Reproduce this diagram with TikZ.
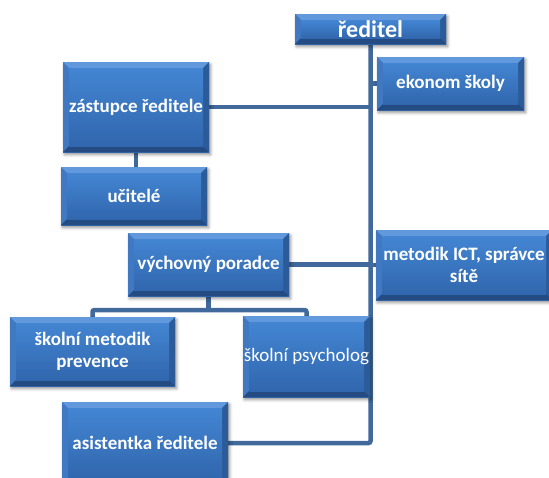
\documentclass[tikz,border=0pt]{standalone}
\usepackage{fontspec}
\setmainfont{Carlito}
\usetikzlibrary{backgrounds,shadows.blur}
\definecolor{facetop}{HTML}{4385D2}
\definecolor{facebot}{HTML}{3167AE}
\definecolor{bevtop}{HTML}{6199DC}
\definecolor{bevleft}{HTML}{4079C2}
\definecolor{bevright}{HTML}{2C5B9A}
\definecolor{bevbot}{HTML}{244C83}
\definecolor{linec}{HTML}{41699C}
\tikzset{
  orgbox/.style={draw=none, fill=facebot, text=white, align=center, inner sep=0pt,
    font=\bfseries\fontsize{19}{22}\selectfont,
    blur shadow={shadow xshift=1.5pt, shadow yshift=-2.5pt, shadow blur radius=3pt, shadow opacity=45},
    path picture={
      \coordinate (nw) at (path picture bounding box.north west);
      \coordinate (ne) at (path picture bounding box.north east);
      \coordinate (sw) at (path picture bounding box.south west);
      \coordinate (se) at (path picture bounding box.south east);
      \shade[top color=facetop, bottom color=facebot] (sw) rectangle (ne);
      \fill[bevtop] (nw) -- (ne) -- ([shift={(-6pt,-6pt)}]ne) -- ([shift={(6pt,-6pt)}]nw) -- cycle;
      \fill[bevleft] (nw) -- ([shift={(6pt,-6pt)}]nw) -- ([shift={(6pt,6pt)}]sw) -- (sw) -- cycle;
      \fill[bevright] (ne) -- ([shift={(-6pt,-6pt)}]ne) -- ([shift={(-6pt,6pt)}]se) -- (se) -- cycle;
      \fill[bevbot] (sw) -- ([shift={(6pt,6pt)}]sw) -- ([shift={(-6pt,6pt)}]se) -- (se) -- cycle;
      \shade[top color=facetop, bottom color=facebot] ([shift={(6pt,6pt)}]sw) rectangle ([shift={(-6pt,-6pt)}]ne);
    }},
  conn/.style={draw=linec, line width=4.5pt}
}
\begin{document}
\begin{tikzpicture}[x=1pt, y=-1pt]
\useasboundingbox (0,0) rectangle (549,477);
\node[orgbox, minimum width=151pt, minimum height=30pt, font=\bfseries\fontsize{24}{27}\selectfont] (red) at (370.5,29) {ředitel};
\node[orgbox, minimum width=147pt, minimum height=53pt] (eko) at (450.5,83.5) {ekonom školy};
\node[orgbox, minimum width=146pt, minimum height=90pt] (zas) at (136,107) {zástupce ředitele};
\node[orgbox, minimum width=146pt, minimum height=58pt] (uci) at (134,196) {učitelé};
\node[orgbox, minimum width=161pt, minimum height=63pt] (vych) at (208.5,264.5) {výchovný poradce};
\node[orgbox, minimum width=176pt, minimum height=70pt] (met) at (464,265) {metodik ICT, správce\\sítě};
\node[orgbox, minimum width=165pt, minimum height=69pt] (smp) at (92.5,351.5) {školní metodik\\prevence};
\node[orgbox, minimum width=127pt, minimum height=81pt, font=\fontsize{19}{22}\selectfont] (psy) at (306.5,356.5) {školní psycholog};
\node[orgbox, minimum width=166pt, minimum height=82pt] (asi) at (145,443) {asistentka ředitele};
\coordinate (br) at (208,310);
\begin{scope}[on background layer]
  \draw[conn, rounded corners=2pt] (red.south) -- (red.south |- asi.east) -- (asi.east);
  \draw[conn] (zas.east) -- (zas.east -| red.south);
  \draw[conn] (red.south |- eko.west) -- (eko.west);
  \draw[conn] (vych.east) -- (vych.east -| red.south);
  \draw[conn] (red.south |- met.west) -- (met.west);
  \draw[conn] (zas.south) -- (zas.south |- uci.north);
  \draw[conn] (vych.south) -- (vych.south |- br);
  \draw[conn, rounded corners=2pt] (smp.north) -- (smp.north |- br) -- (psy.north |- br) -- (psy.north);
\end{scope}
\end{tikzpicture}
\end{document}
